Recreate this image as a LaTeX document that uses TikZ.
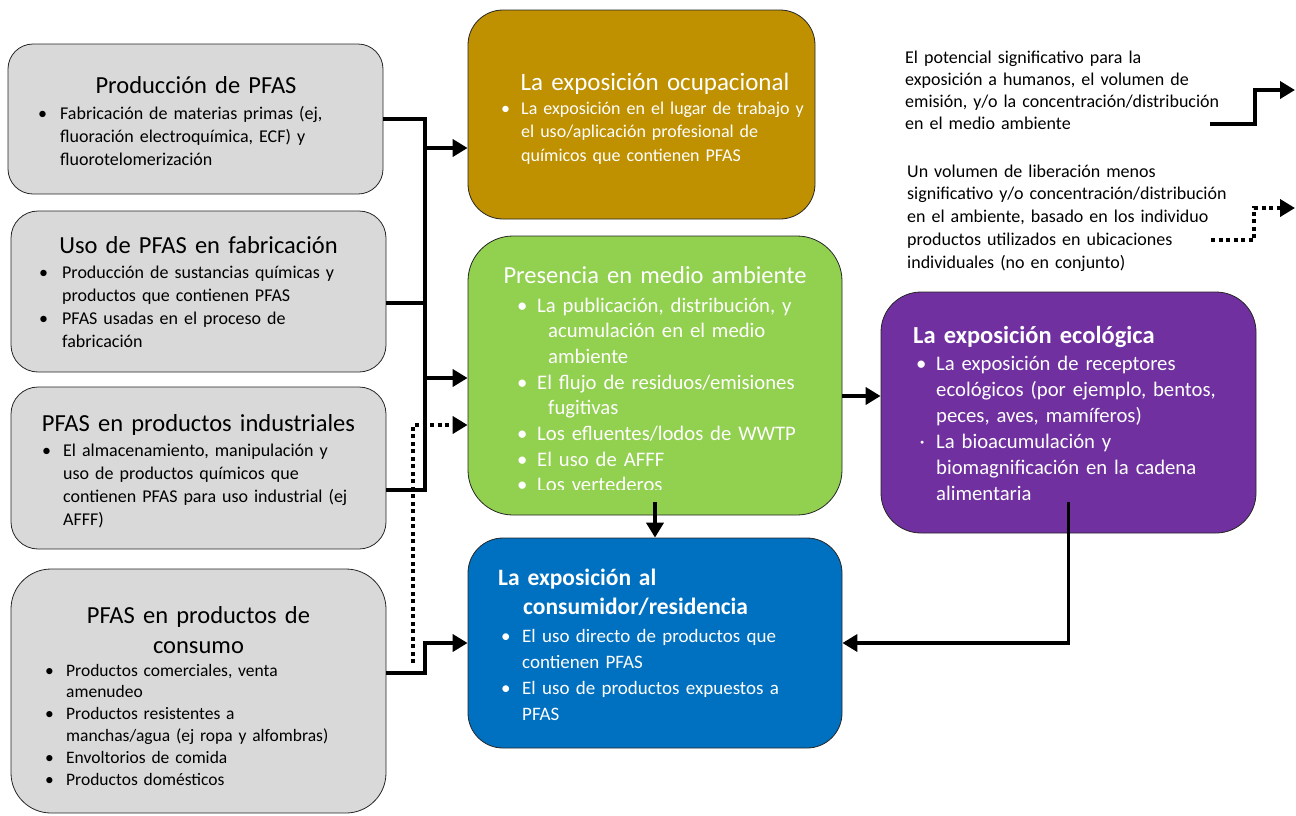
\documentclass[tikz,border=0pt]{standalone}
\usepackage{fontspec}
\setmainfont{Carlito}
\usetikzlibrary{calc}
\usetikzlibrary{arrows.meta}

\definecolor{boxgray}{HTML}{D9D9D9}
\definecolor{ocugold}{HTML}{BF9000}
\definecolor{envgreen}{HTML}{92D050}
\definecolor{resblue}{HTML}{0070C0}
\definecolor{ecopurple}{HTML}{7030A0}

\newlength{\bulgap}
\newcommand{\bul}[2][\textbullet]{\noindent\hangindent=\bulgap\hangafter=1\makebox[\bulgap][l]{#1}#2\par}

\tikzset{
  box/.style={draw=black!85, line width=0.8pt, inner sep=0pt},
  graybox/.style={box, fill=boxgray},
  head/.style={inner sep=0pt, anchor=base, text width=380pt, align=center},
  body/.style={inner sep=0pt, anchor=base west, text width=420pt},
  wire/.style={line width=3.8pt},
  arr/.style={wire, -{Triangle[length=15pt,width=17pt]}},
  dotarr/.style={arr, dash pattern=on 4pt off 3.5pt},
}

\begin{document}
\begin{tikzpicture}[x=1pt,y=-1pt]
\useasboundingbox (0,0) rectangle (1296,815);

% sources
\node[graybox, rounded corners=25pt, minimum width=375pt, minimum height=150pt] (prod) at (195.5,119) {};
\node[graybox, rounded corners=27pt, minimum width=375pt, minimum height=161pt] (fab) at (198.5,291.5) {};
\node[graybox, rounded corners=27pt, minimum width=375pt, minimum height=162pt] (ind) at (198.5,468) {};
\node[graybox, rounded corners=40pt, minimum width=375pt, minimum height=244pt] (cons) at (198.5,691) {};

\node[head, font=\fontsize{24.5}{29}\selectfont] (prodhead) at (196,93) {Producción de PFAS};
\node[body, font=\fontsize{18}{23}\selectfont\raggedright\setlength{\bulgap}{22pt}] (prodtxt) at (38,119)
  {\bul{Fabricación de materias primas (ej,\newline fluoración electroquímica, ECF) y\newline fluorotelomerización}};

\node[head, font=\fontsize{24.5}{29}\selectfont] (fabhead) at (198.5,253) {Uso de PFAS en fabricación};
\node[body, font=\fontsize{18}{23}\selectfont\raggedright\setlength{\bulgap}{23pt}] (fabtxt) at (39,278)
  {\bul{Producción de sustancias químicas y\newline productos que contienen PFAS}
   \bul{PFAS usadas en el proceso de\newline fabricación}};

\node[head, font=\fontsize{24.5}{29}\selectfont] (indhead) at (198.5,431) {PFAS en productos industriales};
\node[body, font=\fontsize{18}{23}\selectfont\raggedright\setlength{\bulgap}{21pt}] (indtxt) at (42,456)
  {\bul{El almacenamiento, manipulación y\newline uso de productos químicos que\newline contienen PFAS para uso industrial (ej\newline AFFF)}};

\node[head, font=\fontsize{24.5}{30}\selectfont] (conshead) at (198.5,623) {PFAS en productos de\\ consumo};
\node[body, font=\fontsize{17.5}{21.8}\selectfont\raggedright\setlength{\bulgap}{21pt}] (constxt) at (45,676)
  {\bul{Productos comerciales, venta\newline amenudeo}
   \bul{Productos resistentes a\newline manchas/agua (ej ropa y alfombras)}
   \bul{Envoltorios de comida}
   \bul{Productos domésticos}};

% exposures
\node[box, fill=ocugold, rounded corners=35pt, minimum width=347pt, minimum height=209pt] (ocu) at (641.5,114.5) {};
\node[box, fill=envgreen, rounded corners=45pt, minimum width=374pt, minimum height=279pt] (env) at (655,375.5) {};
\node[box, fill=resblue, rounded corners=35pt, minimum width=374pt, minimum height=210pt] (res) at (655,643) {};
\node[box, fill=ecopurple, rounded corners=40pt, minimum width=375pt, minimum height=241pt] (eco) at (1068.5,412.5) {};

\node[head, text=white, font=\fontsize{25}{30}\selectfont] (ocuhead) at (655,90) {La exposición ocupacional};
\node[body, text=white, font=\fontsize{18}{23.5}\selectfont\raggedright\setlength{\bulgap}{20pt}] (ocutxt) at (501,114)
  {\bul{La exposición en el lugar de trabajo y\newline el uso/aplicación profesional de\newline químicos que contienen PFAS}};

\node[head, text=white, font=\fontsize{24.5}{29}\selectfont] (envhead) at (655,283) {Presencia en medio ambiente};
\begin{scope}
\clip (468,236) rectangle (842,489);
\node[body, text=white, font=\fontsize{20.7}{25.7}\selectfont\raggedright\setlength{\bulgap}{20pt}] (envtxt) at (517,312)
  {\bul{La publicación, distribución, y\newline\hspace*{11pt}acumulación en el medio\newline\hspace*{11pt}ambiente}
   \bul{El flujo de residuos/emisiones\newline\hspace*{11pt}fugitivas}
   \bul{Los efluentes/lodos de WWTP}
   \bul{El uso de AFFF}
   \bul{Los vertederos}};
\end{scope}

\node[body, text=white, font=\bfseries\fontsize{23.5}{29}\selectfont\raggedright] (reshead) at (498,585)
  {La exposición al\\ \hspace*{25pt}consumidor/residencia};
\node[body, text=white, font=\fontsize{19}{26}\selectfont\raggedright\setlength{\bulgap}{21pt}] (restxt) at (501,642)
  {\bul{El uso directo de productos que\newline contienen PFAS}
   \bul{El uso de productos expuestos a\newline PFAS}};

\node[body, text=white, font=\bfseries\fontsize{24.5}{29}\selectfont\raggedright] (ecohead) at (913,343) {La exposición ecológica};
\node[body, text=white, font=\fontsize{20.7}{26}\selectfont\raggedright\setlength{\bulgap}{20pt}] (ecotxt) at (916,370)
  {\bul{La exposición de receptores\newline ecológicos (por ejemplo, bentos,\newline peces, aves, mamíferos)}
   \bul[\,·]{La bioacumulación y\newline biomagnificación en la cadena\newline alimentaria}};

% key
\node[body, font=\fontsize{18}{22}\selectfont\raggedright] (keysolid) at (905,63)
  {El potencial significativo para la\\ exposición a humanos, el volumen de\\ emisión, y/o la concentración/distribución\\ en el medio ambiente};
\node[body, font=\fontsize{18}{22.8}\selectfont\raggedright] (keydot) at (907,177)
  {Un volumen de liberación menos\\ significativo y/o concentración/distribución\\ en el ambiente, basado en los individuo\\ productos utilizados en ubicaciones\\ individuales (no en conjunto)};
\coordinate (keysolidin) at (1210,124);
\coordinate (keysolidout) at (1295,90);
\coordinate (keydotin) at (1211,240);
\coordinate (keydotout) at (1295,208);
\draw[arr] (keysolidin) -- ++(45,0) |- (keysolidout);
\draw[dotarr] (keydotin) -- ++(43,0) |- (keydotout);

% connectors
\coordinate (bustop) at (425,119);
\coordinate (busend) at (425,490);
\draw[wire] (prod.east) -- (bustop) -- (busend) -- ([yshift=-22pt]ind.east);
\draw[wire] ([yshift=-11.5pt]fab.east) coordinate (fabout) -- (fabout -| bustop);
\path ([yshift=-33.5pt]ocu.west) coordinate (ocuin);
\draw[arr] (ocuin -| bustop) -- (ocuin);
\path ([yshift=-2.5pt]env.west) coordinate (envin);
\draw[arr] (envin -| bustop) -- (envin);
\coordinate (dotfoot) at (413,663);
\draw[dotarr] (dotfoot) |- ([yshift=-49.5pt]env.west);
\draw[arr] ([yshift=18pt]cons.east) -| (res.west -| bustop) -- (res.west);
\draw[arr] ([yshift=13pt]env.south) -- (res.north);
\draw[arr] ([yshift=-20.5pt]env.east) coordinate (envout) -- (envout -| eco.west);
\draw[arr] ([yshift=31pt]eco.south) |- (res.east);

\end{tikzpicture}
\end{document}
